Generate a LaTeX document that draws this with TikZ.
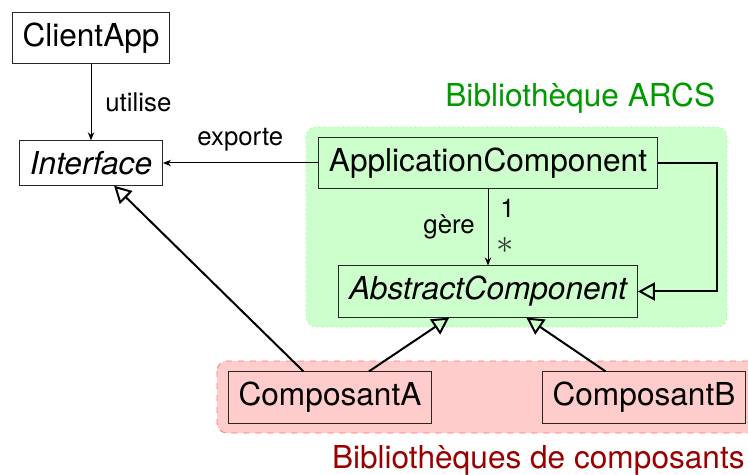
\documentclass[tikz,border=0pt]{standalone}
\usepackage{fontspec}
\setmainfont{TeX Gyre Heros}
\usetikzlibrary{arrows.meta,calc}
\begin{document}
\begin{tikzpicture}[x=0.5pt,y=-0.5pt,
  cls/.style={draw=black!85, line width=0.5pt, inner sep=5.2pt, font=\fontsize{15.8}{19}\selectfont},
  lbl/.style={inner sep=0pt, font=\fontsize{12.9}{15}\selectfont},
  title/.style={inner sep=0pt, font=\fontsize{15.8}{19}\selectfont},
  assoc/.style={-{Stealth[length=4pt,width=3.2pt]}, line width=0.5pt},
  inherit/.style={-{Triangle[open,length=8.5pt,width=9pt]}, line width=1pt},
  greenregion/.style={draw=green!60, dotted, fill=green!20, rounded corners=5pt},
  redregion/.style={draw=red!55, dashed, fill=red!20, rounded corners=5pt}]
\useasboundingbox (0,0) rectangle (748,475);
% regions
\draw[greenregion] (306,127) rectangle (727,327);
\draw[redregion] (217,361) rectangle (758,433);
% titles
\node[title, anchor=base west, text=green!60!black] (tarcs) at (445,107) {Bibliothèque ARCS};
\node[title, anchor=base east, text=red!60!black] (tcomp) at (745,468) {Bibliothèques de composants};
% classes
\node[cls] (client) at (91,38) {ClientApp};
\node[cls] (iface) at (91,163) {\itshape Interface};
\node[cls] (app) at (488,163) {ApplicationComponent};
\node[cls] (abs) at (488,291.5) {\itshape AbstractComponent};
\node[cls] (ca) at (330,397.5) {ComposantA};
\node[cls] (cb) at (644,397.5) {ComposantB};
\coordinate (rx) at (717,0);
% connectors
\draw[assoc] (client) -- (iface);
\draw[assoc] (app) -- (iface);
\draw[assoc] (app) -- (abs);
\draw[inherit] (app.east) -- (app.east -| rx) |- (abs.east);
\draw[inherit] (ca) -- (iface);
\draw[inherit] (ca) -- (abs);
\draw[inherit] (cb) -- (abs);
% labels
\node[lbl, anchor=base west] (lutil) at (105,112) {utilise};
\node[lbl, anchor=base west] (lexp) at (197,146) {exporte};
\node[lbl, anchor=base west] (lgere) at (423,234) {gère};
\node[lbl, anchor=base west] (lone) at (500,218) {1};
\node[inner sep=0pt, anchor=south, text=black!80, font=\fontsize{17}{20}\selectfont] (lstar) at (505.5,254) {$\ast$};
\end{tikzpicture}
\end{document}
